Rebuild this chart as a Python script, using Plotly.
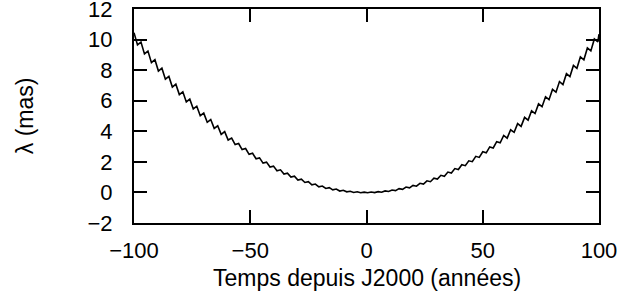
import plotly.graph_objects as go

# Time since J2000 (years)
years = [-100, -98.5, -97, -95.5, -94, -92.5, -91, -89.5, -88, -86.5, -85, -83.5, -82, -80.5, -79, -77.5,
         -76, -74.5, -73, -71.5, -70, -68.5, -67, -65.5, -64, -62.5, -61, -59.5, -58, -56.5, -55, -53.5,
         -52, -50.5, -49, -47.5, -46, -44.5, -43, -41.5, -40, -38.5, -37, -35.5, -34, -32.5, -31, -29.5,
         -28, -26.5, -25, -23.5, -22, -20.5, -19, -17.5, -16, -14.5, -13, -11.5, -10, -8.5, -7, -5.5,
         -4, -2.5, -1, 0.5, 2, 3.5, 5, 6.5, 8, 9.5, 11, 12.5, 14, 15.5, 17, 18.5,
         20, 21.5, 23, 24.5, 26, 27.5, 29, 30.5, 32, 33.5, 35, 36.5, 38, 39.5, 41, 42.5,
         44, 45.5, 47, 48.5, 50, 51.5, 53, 54.5, 56, 57.5, 59, 60.5, 62, 63.5, 65, 66.5,
         68, 69.5, 71, 72.5, 74, 75.5, 77, 78.5, 80, 81.5, 83, 84.5, 86, 87.5, 89, 90.5,
         92, 93.5, 95, 96.5, 98, 99.5, 100]

# lambda (mas)
lam = [10.45, 9.65, 9.84, 9.06, 9.25, 8.49, 8.68, 7.94, 8.13, 7.41, 7.59, 6.89, 7.08, 6.40, 6.58, 5.92,
       6.10, 5.46, 5.64, 5.02, 5.19, 4.59, 4.77, 4.19, 4.36, 3.80, 3.98, 3.43, 3.56, 3.13, 3.20, 2.80,
       2.87, 2.49, 2.56, 2.20, 2.26, 1.92, 1.98, 1.66, 1.72, 1.42, 1.48, 1.20, 1.26, 1.00, 1.06, 0.81,
       0.87, 0.65, 0.70, 0.50, 0.55, 0.37, 0.42, 0.26, 0.31, 0.17, 0.22, 0.09, 0.14, 0.04, 0.08, 0.00,
       0.04, -0.02, 0.02, -0.02, 0.03, -0.01, 0.05, 0.01, 0.10, 0.06, 0.16, 0.12, 0.25, 0.20, 0.35, 0.30,
       0.46, 0.41, 0.60, 0.55, 0.76, 0.70, 0.93, 0.87, 1.12, 1.06, 1.33, 1.27, 1.56, 1.50, 1.81, 1.75,
       2.07, 2.01, 2.36, 2.29, 2.66, 2.59, 2.98, 2.91, 3.32, 3.25, 3.73, 3.55, 4.10, 3.93, 4.50, 4.32,
       4.91, 4.73, 5.34, 5.16, 5.79, 5.61, 6.26, 6.07, 6.74, 6.56, 7.25, 7.06, 7.77, 7.58, 8.31, 8.12,
       8.87, 8.68, 9.45, 9.26, 10.04, 9.85, 10.35]

x_ticks = [-100, -50, 0, 50, 100]
x_tick_text = ["\u2212100", "\u221250", "0", "50", "100"]
y_ticks = [-2, 0, 2, 4, 6, 8, 10, 12]
y_tick_text = ["\u22122", "0", "2", "4", "6", "8", "10", "12"]

x_title = "Temps depuis J2000 (années)"
y_title = "λ (mas)"

fig = go.Figure()
fig.add_trace(go.Scatter(x=years, y=lam, mode="lines",
                         line=dict(color="black", width=1.6), showlegend=False))

tick_font = dict(family="Liberation Sans, Arial, sans-serif", size=22, color="black")
title_font = dict(family="Liberation Sans, Arial, sans-serif", size=23, color="black")

axis_common = dict(ticks="inside", ticklen=13, tickwidth=1.5, tickcolor="black",
                   showline=True, linecolor="black", linewidth=2, mirror="allticks",
                   showgrid=False, zeroline=False, automargin=False,
                   ticklabeloverflow="allow", tickfont=tick_font)

fig.update_layout(
    width=618, height=302,
    margin=dict(l=134, r=19, t=9, b=79),
    paper_bgcolor="white", plot_bgcolor="white",
    font=tick_font,
    xaxis=dict(range=[-100, 100], tickvals=x_ticks, ticktext=x_tick_text,
               ticklabelstandoff=7, **axis_common),
    yaxis=dict(range=[-2, 12], tickvals=y_ticks, ticktext=y_tick_text,
               ticklabelstandoff=15, **axis_common),
    annotations=[
        dict(text=x_title, xref="paper", yref="paper", x=0.5, y=-0.255,
             xanchor="center", yanchor="middle", showarrow=False, font=title_font),
        dict(text=y_title, xref="paper", yref="paper", x=-0.234, y=0.5,
             xanchor="center", yanchor="middle", textangle=-90, showarrow=False, font=title_font),
    ],
)

# remove the default page margin so the figure fills the 618x302 window exactly
fig.write_html("out.html", config={"displayModeBar": False},
               post_script="document.body.style.margin='0';")
